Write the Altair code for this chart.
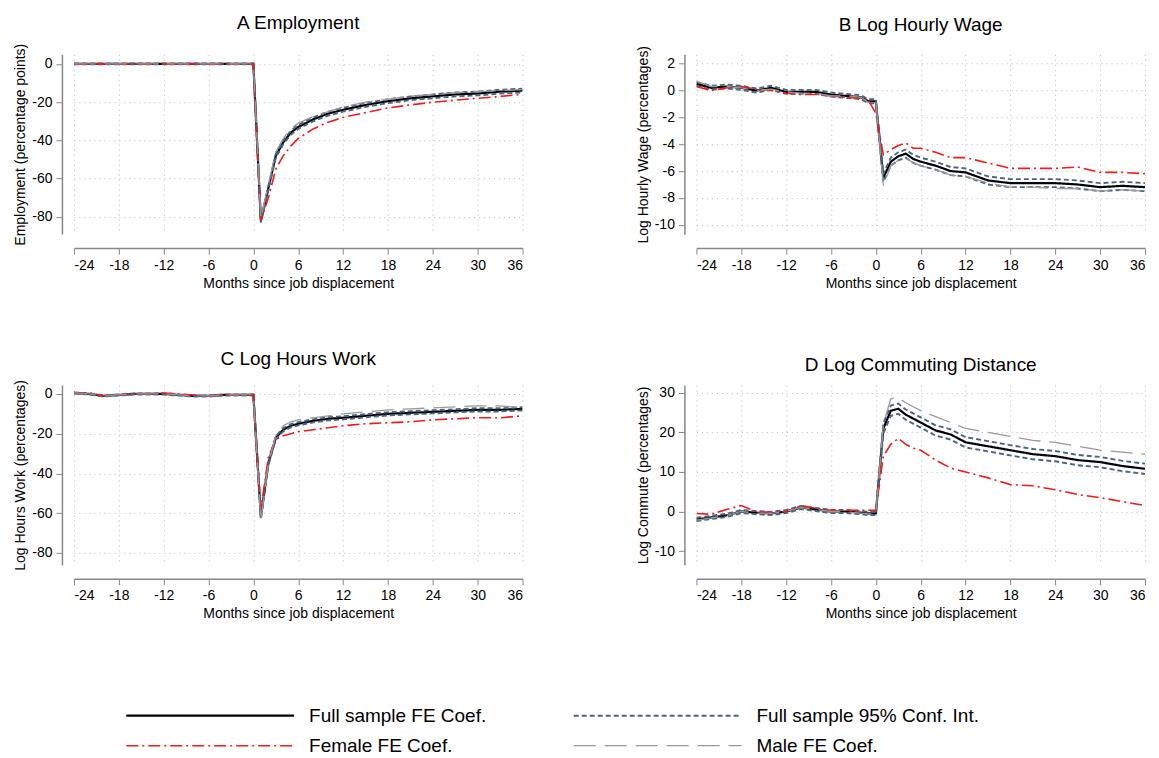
import altair as alt
import pandas as pd

months = [-24, -22, -20, -18, -16, -14, -12, -10, -8, -6, -4, -2, -1, 0,
          1, 2, 3, 4, 5, 6, 8, 10, 12, 15, 18, 21, 24, 27, 30, 33, 36]

# A Employment
a_full = [0] * 14 + [-82, -65, -48, -41, -36, -33, -29, -26, -24, -21.5, -19.5, -18, -17, -16, -15.5, -14.5, -14]
a_fem = [0] * 14 + [-82, -70, -55, -48, -43, -39, -34, -30.5, -28, -25.5, -23, -21.5, -20, -19, -18, -17, -16]
a_male = [0] * 14 + [-81, -63, -46, -39, -34, -31, -27.5, -25, -22.5, -20, -18.5, -17, -16, -15, -14.5, -14, -13.5]
a_hw = [0.2] * 14 + [1.0] * 17

# B Log hourly wage
b_full = [0.5, 0.2, 0.3, 0.2, 0.0, 0.2, -0.1, -0.1, -0.1, -0.3, -0.4, -0.5, -0.8, -0.8,
          -6.5, -5.3, -4.9, -4.7, -5.1, -5.3, -5.6, -6.0, -6.1, -6.7, -6.9, -6.9, -6.9, -7.0, -7.2, -7.1, -7.2]
b_fem = [0.3, 0.0, 0.2, 0.3, 0.1, 0.0, -0.2, -0.3, -0.3, -0.4, -0.5, -0.6, -0.7, -1.7,
         -4.8, -4.4, -4.1, -3.9, -4.3, -4.3, -4.6, -5.0, -5.0, -5.4, -5.8, -5.8, -5.8, -5.7, -6.1, -6.1, -6.2]
b_male = [0.7, 0.3, 0.3, 0.2, 0.0, 0.1, -0.1, -0.2, -0.2, -0.4, -0.4, -0.5, -0.9, -0.7,
          -7.1, -5.6, -5.2, -5.0, -5.4, -5.6, -5.9, -6.3, -6.4, -6.9, -7.2, -7.2, -7.3, -7.3, -7.5, -7.4, -7.5]
b_hw = [0.15] * 14 + [0.3] * 17

# C Log hours work
c_full = [0.5, 0, -1, -0.5, 0, 0, 0, -0.5, -1, -1, -0.5, -0.5, -0.5, -0.5,
          -62, -35, -22, -18, -16, -15, -13.5, -12.5, -12, -11, -10, -9.5, -9, -8.5, -8, -8, -7.5]
c_fem = [0.5, 0.5, -1, -0.5, 0, 0, 0.5, 0, -0.5, -1, -0.5, -0.5, -0.5, -0.5,
         -58, -32, -23, -21, -20, -19, -18, -17, -16, -15, -14.5, -14, -13, -12.5, -12, -12, -11]
c_male = [0.5, 0, -1, -0.5, 0, 0, 0, -0.5, -1, -1, -0.5, -0.5, -0.5, -0.5,
          -64, -35, -21, -16, -14, -13, -12, -11, -10, -9, -8, -7.5, -7, -6.5, -6, -6, -7]
c_hw = [0.3] * 14 + [0.8] * 17

# D Log commuting distance
d_full = [-2, -1.5, -1, 0, -0.3, -0.5, 0, 1, 0.5, 0, 0, -0.3, -0.5, -0.5,
          21, 25.5, 26, 24.5, 23.5, 22.5, 20.5, 19.5, 17.5, 16.5, 15.5, 14.5, 14, 13, 12.5, 11.5, 10.8]
d_fem = [-0.5, -0.7, 0.5, 1.5, 0, -0.2, 0, 1.5, 0.8, 0.3, 0.3, 0.3, 0.3, 0.3,
         14, 17, 18.5, 17, 16, 15.5, 13, 11, 10, 8.5, 6.8, 6.5, 5.5, 4.3, 3.5, 2.5, 1.5]
d_male = [-2.2, -1.6, -1, 0, -0.4, -0.5, 0, 1, 0.5, 0, -0.1, -0.4, -0.6, -0.6,
          22, 28.5, 28.8, 27.5, 26.5, 25.5, 24, 22.5, 21, 20, 19, 18, 17.5, 16.5, 15.5, 15, 14.5]
d_hw = [0.4] * 14 + [1.3] * 17

series_names = ["Full sample FE Coef.", "Full sample 95% Conf. Int.", "Female FE Coef.", "Male FE Coef."]
colors = ["#000000", "#4a6580", "#ee1c1c", "#999999"]
dashes = [[1, 0], [5, 3], [12, 4, 2, 4], [22, 9]]
widths = [2.2, 1.3, 1.3, 1.3]

# legend layout (column, row) for each series
legend_col = [0, 1, 0, 1]
legend_row = [0, 0, 1, 1]

FONT = "Liberation Sans"
PLAIN = "'' + datum.value"

color_s = alt.Scale(domain=series_names, range=colors)
dash_s = alt.Scale(domain=series_names, range=dashes)
width_s = alt.Scale(domain=series_names, range=widths)


def panel(title, ytitle, full, fem, male, hw, ydomain, yticks):
    rows = []
    for i, m in enumerate(months):
        rows.append((m, full[i], series_names[0], "full"))
        rows.append((m, full[i] - hw[i], series_names[1], "lo"))
        rows.append((m, full[i] + hw[i], series_names[1], "hi"))
        rows.append((m, fem[i], series_names[2], "fem"))
        rows.append((m, male[i], series_names[3], "male"))
    df = pd.DataFrame(rows, columns=["month", "value", "series", "line"])
    return alt.Chart(df).mark_line(clip=True).encode(
        x=alt.X("month:Q", scale=alt.Scale(domain=[-24, 36], nice=False, zero=False),
                axis=alt.Axis(values=list(range(-24, 37, 6)), title="Months since job displacement",
                              offset=14, labelExpr=PLAIN)),
        y=alt.Y("value:Q", scale=alt.Scale(domain=ydomain, nice=False, zero=False),
                axis=alt.Axis(values=yticks, title=ytitle, offset=12, labelExpr=PLAIN)),
        color=alt.Color("series:N", scale=color_s, legend=None),
        strokeDash=alt.StrokeDash("series:N", scale=dash_s, legend=None),
        strokeWidth=alt.StrokeWidth("series:N", scale=width_s, legend=None),
        detail="line:N",
        order=alt.Order("month:Q"),
    ).properties(width=449, height=180, title=title)


A = panel("A Employment", "Employment (percentage points)", a_full, a_fem, a_male, a_hw,
          [-89, 5], [0, -20, -40, -60, -80])
B = panel("B Log Hourly Wage", "Log Hourly Wage (percentages)", b_full, b_fem, b_male, b_hw,
          [-10.7, 2.7], [2, 0, -2, -4, -6, -8, -10])
C = panel("C Log Hours Work", "Log Hours Work (percentages)", c_full, c_fem, c_male, c_hw,
          [-86, 4.5], [0, -20, -40, -60, -80])
D = panel("D Log Commuting Distance", "Log Commute (percentages)", d_full, d_fem, d_male, d_hw,
          [-13.5, 32], [30, 20, 10, 0, -10])

# hand-built legend: one short line + label per series
leg_rows = []
for s, c, r in zip(series_names, legend_col, legend_row):
    leg_rows.append({"series": s, "row": r, "pos": c, "end": "a"})
    leg_rows.append({"series": s, "row": r, "pos": c + 0.375, "end": "b"})
leg_df = pd.DataFrame(leg_rows)
lx = alt.Scale(domain=[-0.117, 2.25], range=[0, 1060])
ly = alt.Scale(domain=[-0.5, 1.5], range=[0, 60])

leg_lines = alt.Chart(leg_df).mark_line().encode(
    x=alt.X("pos:Q", scale=lx, axis=None),
    y=alt.Y("row:Q", scale=ly, axis=None),
    color=alt.Color("series:N", scale=color_s, legend=None),
    strokeDash=alt.StrokeDash("series:N", scale=dash_s, legend=None),
    strokeWidth=alt.StrokeWidth("series:N", scale=width_s, legend=None),
    detail="series:N",
)
leg_text = alt.Chart(leg_df[leg_df["end"] == "b"]).mark_text(
    align="left", dx=15, fontSize=19, font=FONT, color="#000"
).encode(
    x=alt.X("pos:Q", scale=lx, axis=None),
    y=alt.Y("row:Q", scale=ly, axis=None),
    text="series:N",
)
legend = alt.layer(leg_lines, leg_text).properties(width=1060, height=60)

panels = alt.vconcat(
    alt.hconcat(A, B, spacing=112),
    alt.hconcat(C, D, spacing=112),
    spacing=60,
)

chart = alt.vconcat(panels, legend, spacing=80).configure_view(stroke=None).configure_axis(
    grid=True, gridDash=[1, 4], gridColor="#bbbbbb", domainColor="#888888", tickColor="#888888",
    labelFont=FONT, titleFont=FONT, labelFontSize=14, titleFontSize=14, labelColor="#000",
    titleColor="#000", titleFontWeight="normal", tickSize=6, domainWidth=1.5, labelPadding=4,
).configure_title(font=FONT, fontSize=19, fontWeight="normal", anchor="middle", offset=10)

chart.save("out.html", embed_options={"renderer": "svg", "actions": False})
